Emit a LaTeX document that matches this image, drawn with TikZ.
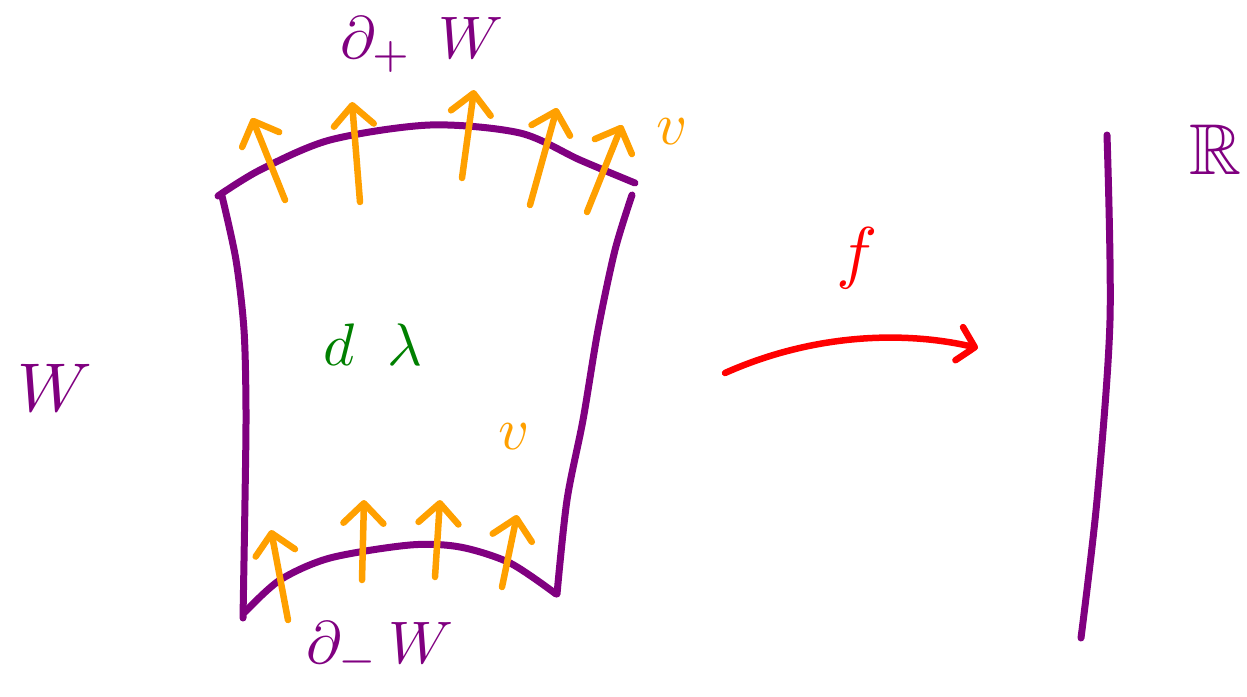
\documentclass[tikz,border=0pt]{standalone}
\usepackage{amssymb}
\usetikzlibrary{arrows.meta}
\definecolor{pur}{RGB}{128,0,128}
\definecolor{ora}{RGB}{255,160,0}
\definecolor{grn}{RGB}{0,128,0}
\definecolor{rd}{RGB}{255,0,0}
\tikzset{
  edge/.style={draw=pur,line width=7pt,line cap=round,line join=round},
  vec/.style={draw=ora,line width=6.5pt,line cap=round,-{Straight Barb[length=20pt,width=40pt,line width=6.5pt,round]}},
  lab/.style={inner sep=0pt,scale=6},
}
\begin{document}
\begin{tikzpicture}[x=1pt,y=-1pt]
\useasboundingbox (0,0) rectangle (1247,696);
% region W
\draw[edge] plot[smooth,tension=0.5] coordinates {(218,196) (260,170) (330,140) (430,125) (520,133) (580,160) (635,183)};
\draw[edge] plot[smooth,tension=0.5] coordinates {(222,196) (236,260) (244,330) (246,410) (245,500) (243,618)};
\draw[edge] plot[smooth,tension=0.5] coordinates {(245,612) (280,580) (330,558) (410,545) (460,547) (510,563) (556,594)};
\draw[edge] plot[smooth,tension=0.5] coordinates {(632,195) (615,250) (598,330) (583,420) (567,500) (557,594)};
% top vectors
\coordinate (t1a) at (285,200); \coordinate (t1b) at (252,118);
\coordinate (t2a) at (360,202); \coordinate (t2b) at (352,102);
\coordinate (t3a) at (462,178); \coordinate (t3b) at (474,90);
\coordinate (t4a) at (530,205); \coordinate (t4b) at (557,108);
\coordinate (t5a) at (587,212); \coordinate (t5b) at (622,125);
\foreach \i in {1,...,5} \draw[vec] (t\i a) -- (t\i b);
% bottom vectors
\coordinate (b1a) at (288,620); \coordinate (b1b) at (271,530);
\coordinate (b2a) at (362,580); \coordinate (b2b) at (364,500);
\coordinate (b3a) at (435,577); \coordinate (b3b) at (440,500);
\coordinate (b4a) at (502,587); \coordinate (b4b) at (517,515);
\foreach \i in {1,...,4} \draw[vec] (b\i a) -- (b\i b);
% labels
\node[lab,text=pur] (top) at (422,45) {$\partial_{+}\;\,W$};
\node[lab,text=pur] (bot) at (380,650) {$\partial_{-}\,W$};
\node[lab,text=pur,scale=1.15] (W) at (55,388) {$W$};
\node[lab,text=grn] (dl) at (373,345) {$d\;\;\lambda$};
\node[lab,text=ora] (v1) at (672,132) {$v$};
\node[lab,text=ora] (v2) at (514,437) {$v$};
\node[lab,text=rd,scale=1.15] (f) at (857,258) {$f$};
\node[lab,text=pur,scale=1.2] (R) at (1215,150) {$\mathbb{R}$};
% map arrow
\coordinate (fa) at (725,373);
\coordinate (fb) at (978,348);
\draw[draw=rd,line width=6.5pt,line cap=round,-{Straight Barb[length=16pt,width=34pt,line width=6.5pt,round]}] (fa) .. controls (810,335) and (900,330) .. (fb);
% real line
\draw[edge] plot[smooth,tension=0.5] coordinates {(1107,135) (1110,320) (1097,500) (1081,638)};
\end{tikzpicture}
\end{document}
